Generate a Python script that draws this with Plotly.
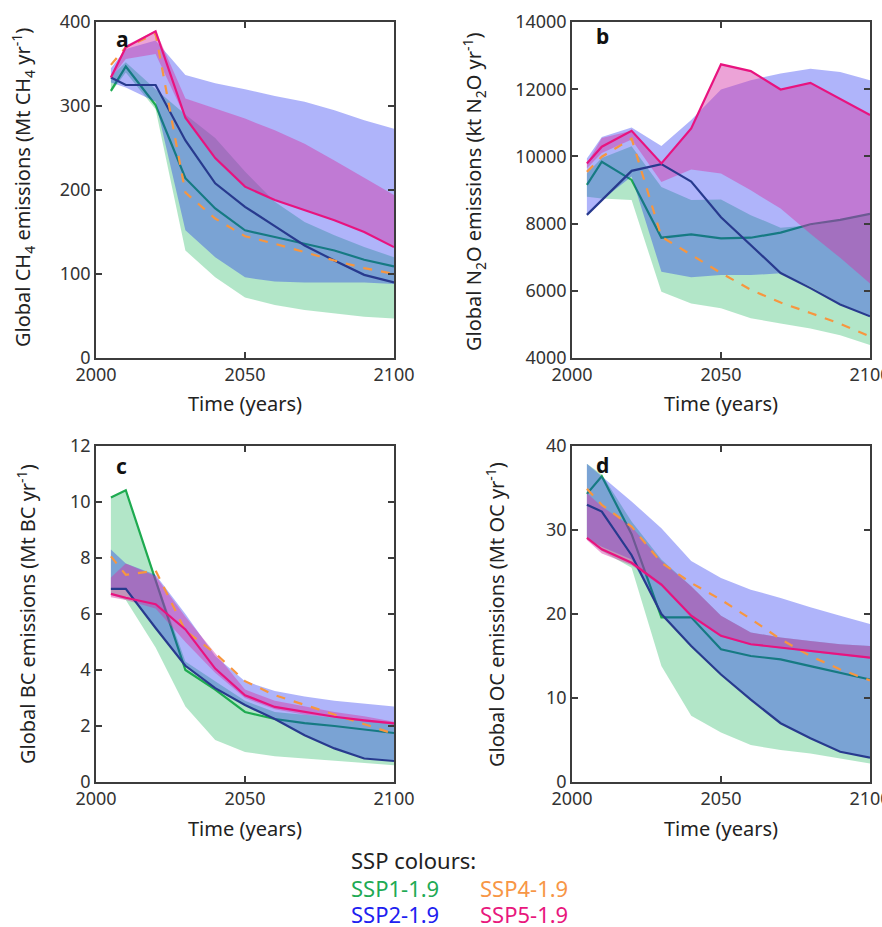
import plotly.graph_objects as go
from plotly.subplots import make_subplots

# years shared by all scenarios
years = [2005, 2010, 2020, 2030, 2040, 2050, 2060, 2070, 2080, 2090, 2100]

# panel a: CH4 (Mt CH4 / yr)
ch4_ssp1 = [318, 347, 301, 214, 178, 152, 144, 136, 128, 117, 109]
ch4_ssp2 = [334, 325, 325, 259, 208, 180, 157, 134, 116, 99, 90]
ch4_ssp4 = [349, 370, 386, 197, 166, 145, 136, 126, 116, 107, 100]
ch4_ssp5 = [334, 370, 389, 286, 238, 204, 188, 176, 164, 150, 132]
ch4_ssp1_lo = [316, 340, 296, 128, 96, 72, 63, 57, 53, 49, 47]
ch4_ssp1_hi = [335, 352, 320, 290, 262, 222, 186, 162, 146, 132, 120]
ch4_ssp2_lo = [328, 322, 305, 152, 120, 96, 91, 90, 90, 90, 88]
ch4_ssp2_hi = [345, 368, 378, 337, 327, 320, 312, 305, 295, 283, 273]
ch4_ssp5_lo = [333, 356, 362, 286, 238, 204, 188, 176, 164, 150, 132]
ch4_ssp5_hi = [336, 372, 390, 309, 297, 285, 271, 255, 235, 215, 194]

# panel b: N2O (kt N2O / yr)
n2o_ssp1 = [9150, 9840, 9300, 7580, 7680, 7560, 7580, 7730, 7980, 8110, 8290]
n2o_ssp2 = [8260, 8700, 9570, 9770, 9250, 8190, 7370, 6530, 6080, 5590, 5240]
n2o_ssp4 = [9540, 9990, 10530, 7610, 7070, 6530, 6030, 5650, 5340, 5020, 4640]
n2o_ssp5 = [9790, 10290, 10760, 9790, 10830, 12740, 12540, 11990, 12190, 11720, 11230]
n2o_ssp1_lo = [8800, 8750, 8700, 5970, 5620, 5480, 5180, 5030, 4880, 4680, 4390]
n2o_ssp1_hi = [9500, 9950, 10300, 9090, 8700, 8720, 8250, 7880, 7950, 8100, 8300]
n2o_ssp2_lo = [8260, 8700, 9400, 6570, 6400, 6470, 6470, 6520, 6120, 5620, 5230]
n2o_ssp2_hi = [9940, 10580, 10860, 10310, 11080, 11990, 12270, 12470, 12610, 12510, 12270]
n2o_ssp5_lo = [9650, 10100, 10500, 9240, 9610, 9490, 8990, 8450, 7700, 6980, 6220]
n2o_ssp5_hi = [9790, 10550, 10760, 9790, 10830, 12740, 12540, 11990, 12190, 11720, 11230]

# panel c: BC (Mt BC / yr)
bc_ssp1 = [10.16, 10.42, 7.2, 4.0, 3.3, 2.5, 2.25, 2.1, 2.0, 1.87, 1.75]
bc_ssp2 = [6.9, 6.9, 5.5, 4.15, 3.35, 2.75, 2.25, 1.67, 1.2, 0.84, 0.75]
bc_ssp4 = [8.06, 7.4, 7.55, 5.4, 4.6, 3.6, 3.1, 2.75, 2.4, 2.05, 1.72]
bc_ssp5 = [6.72, 6.58, 6.35, 5.45, 4.05, 3.1, 2.68, 2.5, 2.33, 2.2, 2.09]
bc_ssp1_lo = [6.7, 6.5, 4.8, 2.7, 1.5, 1.07, 0.92, 0.86, 0.78, 0.68, 0.6]
bc_ssp1_hi = [10.16, 10.42, 7.3, 4.3, 3.6, 2.9, 2.5, 2.4, 2.3, 2.2, 2.1]
bc_ssp2_lo = [6.9, 6.9, 5.5, 4.15, 3.35, 2.75, 2.25, 1.67, 1.2, 0.84, 0.75]
bc_ssp2_hi = [8.3, 7.8, 7.4, 6.0, 4.5, 3.6, 3.25, 3.05, 2.9, 2.8, 2.7]
bc_ssp5_lo = [6.6, 6.5, 6.2, 5.0, 3.9, 3.0, 2.6, 2.4, 2.3, 2.15, 2.05]
bc_ssp5_hi = [7.3, 7.8, 7.35, 5.9, 4.6, 3.3, 2.9, 2.7, 2.5, 2.35, 2.15]

# panel d: OC (Mt OC / yr)
oc_ssp1 = [34.3, 36.4, 29.5, 19.6, 19.6, 15.8, 15.0, 14.6, 13.8, 13.0, 12.2]
oc_ssp2 = [33.0, 32.2, 27.0, 20.0, 16.2, 12.8, 9.8, 7.0, 5.2, 3.6, 2.9]
oc_ssp4 = [34.9, 33.0, 30.4, 26.1, 23.7, 21.7, 19.4, 17.0, 15.0, 13.4, 12.1]
oc_ssp5 = [29.05, 27.7, 26.1, 23.5, 19.8, 17.4, 16.4, 16.0, 15.6, 15.2, 14.8]
oc_ssp1_lo = [29.0, 27.5, 25.5, 13.8, 7.9, 5.9, 4.4, 3.8, 3.4, 2.8, 2.2]
oc_ssp1_hi = [37.9, 36.6, 31.0, 26.5, 23.3, 19.8, 17.8, 17.2, 16.8, 16.4, 16.2]
oc_ssp2_lo = [29.0, 28.0, 26.5, 20.0, 16.2, 12.8, 9.8, 7.0, 5.2, 3.6, 2.9]
oc_ssp2_hi = [37.9, 36.4, 33.4, 30.2, 26.3, 24.3, 22.9, 21.9, 20.8, 19.8, 18.8]
oc_ssp5_lo = [28.8, 27.2, 25.8, 23.3, 19.6, 17.3, 16.3, 15.9, 15.5, 15.1, 14.7]
oc_ssp5_hi = [34.4, 32.8, 30.4, 26.3, 23.3, 19.8, 17.8, 17.2, 16.8, 16.4, 16.2]

W, H = 882, 927
FONT = "Noto Sans"

green_fill = "rgba(35,184,98,0.35)"
blue_fill = "rgba(5,22,240,0.32)"
pink_fill = "rgba(213,51,166,0.45)"
green_line = "#1eaa50"
navy_line = "#283a8e"
orange_line = "#f7963f"
pink_line = "#e8137f"


def px_x(p):
    return p / W


def px_y(p):
    return 1 - p / H


fig = make_subplots(rows=2, cols=2)


def band(lo, hi, color, row, col):
    fig.add_trace(go.Scatter(x=years + years[::-1], y=hi + lo[::-1],
                             fill="toself", fillcolor=color, mode="lines",
                             line=dict(width=0), hoverinfo="skip",
                             showlegend=False), row=row, col=col)


def line(vals, color, row, col, dash="solid"):
    fig.add_trace(go.Scatter(x=years, y=vals, mode="lines",
                             line=dict(color=color, width=2.2, dash=dash),
                             showlegend=False), row=row, col=col)


panels = [
    (1, 1, ch4_ssp1, ch4_ssp2, ch4_ssp4, ch4_ssp5, ch4_ssp1_lo, ch4_ssp1_hi,
     ch4_ssp2_lo, ch4_ssp2_hi, ch4_ssp5_lo, ch4_ssp5_hi),
    (1, 2, n2o_ssp1, n2o_ssp2, n2o_ssp4, n2o_ssp5, n2o_ssp1_lo, n2o_ssp1_hi,
     n2o_ssp2_lo, n2o_ssp2_hi, n2o_ssp5_lo, n2o_ssp5_hi),
    (2, 1, bc_ssp1, bc_ssp2, bc_ssp4, bc_ssp5, bc_ssp1_lo, bc_ssp1_hi,
     bc_ssp2_lo, bc_ssp2_hi, bc_ssp5_lo, bc_ssp5_hi),
    (2, 2, oc_ssp1, oc_ssp2, oc_ssp4, oc_ssp5, oc_ssp1_lo, oc_ssp1_hi,
     oc_ssp2_lo, oc_ssp2_hi, oc_ssp5_lo, oc_ssp5_hi),
]

for r, c, s1, s2, s4, s5, l1, h1, l2, h2, l5, h5 in panels:
    # green band and line first so the blue band tints the line where they overlap
    band(l1, h1, green_fill, r, c)
    line(s1, green_line, r, c)
    band(l2, h2, blue_fill, r, c)
    band(l5, h5, pink_fill, r, c)
    line(s2, navy_line, r, c)
    line(s4, orange_line, r, c, dash="dash")
    line(s5, pink_line, r, c)

axis_style = dict(showline=True, linecolor="#3c3c3c", linewidth=1.5,
                  mirror="ticks", ticks="inside", ticklen=6, tickwidth=1.5,
                  tickcolor="#3c3c3c", showgrid=False, zeroline=False,
                  automargin=False, ticklabeloverflow="allow",
                  tickfont=dict(family=FONT, size=18, color="#333333"))

x_left = [px_x(96), px_x(394)]
x_right = [px_x(572), px_x(870)]
y_top = [px_y(358), px_y(22)]
y_bot = [px_y(782), px_y(446)]

fig.update_xaxes(axis_style, range=[2000, 2100], tickvals=[2000, 2050, 2100])
fig.update_yaxes(axis_style, tickformat="d")

fig.update_layout(
    xaxis=dict(domain=x_left), yaxis=dict(domain=y_top, range=[0, 400], dtick=100),
    xaxis2=dict(domain=x_right), yaxis2=dict(domain=y_top, range=[4000, 14000], dtick=2000),
    xaxis3=dict(domain=x_left), yaxis3=dict(domain=y_bot, range=[0, 12], dtick=2),
    xaxis4=dict(domain=x_right), yaxis4=dict(domain=y_bot, range=[0, 40], dtick=10),
)


def label(x, y, text, font, angle=0, xanchor="center"):
    fig.add_annotation(x=px_x(x), y=px_y(y), xref="paper", yref="paper",
                       text=text, textangle=angle, showarrow=False, font=font,
                       xanchor=xanchor, yanchor="middle")


title_font = dict(family=FONT, size=20, color="#222222")
y_titles = [
    (23, 188, "Global CH<sub>4</sub> emissions (Mt CH<sub>4</sub> yr<sup>-1</sup>)"),
    (474, 192, "Global N<sub>2</sub>O emissions (kt N<sub>2</sub>O yr<sup>-1</sup>)"),
    (26, 614, "Global BC emissions (Mt BC yr<sup>-1</sup>)"),
    (495, 614, "Global OC emissions (Mt OC yr<sup>-1</sup>)"),
]
for ax, ay, txt in y_titles:
    label(ax, ay, txt, title_font, angle=-90)

for ax, ay in [(245, 403), (721, 403), (245, 828), (721, 828)]:
    label(ax, ay, "Time (years)", title_font)

letter_font = dict(family=FONT, size=21, color="#111111")
for ax, ay, letter in [(122, 39, "a"), (602, 36, "b"), (121, 466, "c"), (602, 465, "d")]:
    label(ax, ay, "<b>%s</b>" % letter, letter_font)

# colour key below the panels
legend_items = [
    (349, 860, "SSP colours:", "#222222"),
    (349, 888, "SSP1-1.9", "#1faa55"),
    (478, 888, "SSP4-1.9", "#f79646"),
    (349, 914, "SSP2-1.9", "#2020f0"),
    (478, 914, "SSP5-1.9", "#e8177d"),
]
for ax, ay, txt, col in legend_items:
    label(ax, ay, txt, dict(family=FONT, size=22, color=col), xanchor="left")

fig.update_layout(width=W, height=H, margin=dict(l=0, r=0, t=0, b=0),
                  plot_bgcolor="white", paper_bgcolor="white",
                  font=dict(family=FONT))

# drop the browser's default page margin so the figure sits at the corner
fig.write_html("out.html", config={"displayModeBar": False},
               post_script="document.body.style.margin='0px';")
